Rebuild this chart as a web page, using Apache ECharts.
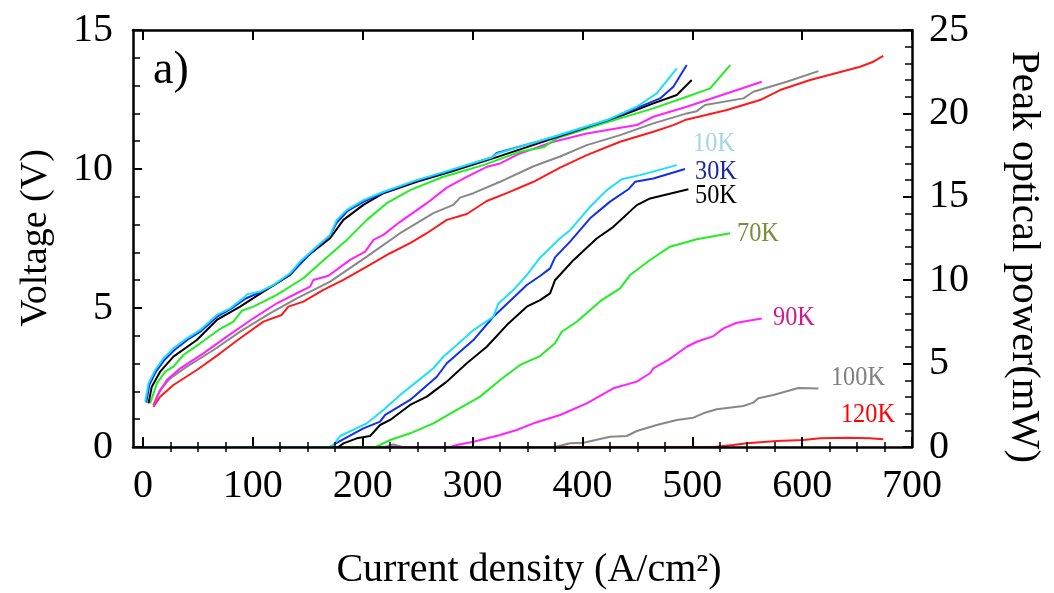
<!DOCTYPE html>
<html>
<head>
<meta charset="utf-8">
<script src="https://cdn.jsdelivr.net/npm/echarts@6/dist/echarts.min.js"></script>
<style>
html,body{margin:0;padding:0;background:#fff;}
#chart{width:1054px;height:593px;}
</style>
</head>
<body>
<div id="chart"></div>
<script>
// ---- Data (current density A/cm2, value) ----
const temps = ['10K','30K','50K','70K','90K','100K','120K'];
const lineColors = ['#1ee0f5','#1030ee','#000000','#22ee22','#ff22ff','#888888','#ff1a1a'];
const labelColors = ['#a4d6e6','#1c2b9c','#000000','#7d8c3c','#cc1a8c','#7f7f7f','#ff0000'];

const xTicks = [0,100,200,300,400,500,600,700];
const xMinorTicks = [25,50,75,125,150,175,225,250,275,325,350,375,425,450,475,525,550,575,625,650,675];

// Voltage (V)
const v10 = [[2.1,1.63],[5.1,2.29],[11.2,2.77],[18.7,3.19],[27.8,3.55],[40,3.91],[52.1,4.21],[67.3,4.75],[79.4,4.99],[93.1,5.41],[94.6,5.49],[106.7,5.59],[118.8,5.83],[134,6.25],[143.1,6.67],[158.3,7.21],[170.4,7.63],[176.5,8.17],[185.6,8.53],[200.7,8.88],[218.9,9.18],[249.3,9.6],[279.6,9.96],[318,10.42],[322.1,10.55],[373.6,11.16],[422.2,11.76],[449.5,12.24],[467.7,12.72],[485.9,13.62]];
const v30 = [[3,1.6],[6,2.25],[12,2.72],[20,3.15],[29,3.5],[41,3.87],[53,4.17],[68,4.7],[80,4.97],[94,5.35],[107,5.57],[119,5.82],[134,6.22],[144,6.62],[158,7.18],[170.4,7.6],[176,8.05],[186,8.48],[201,8.83],[219,9.15],[249,9.58],[280,9.94],[318,10.42],[322,10.58],[374,11.14],[422,11.74],[450,12.2],[470.7,12.54],[482.8,12.96],[495,13.74]];
const v50 = [[5.1,1.57],[8.1,2.17],[15.7,2.71],[27.8,3.25],[49.1,3.85],[67.3,4.57],[88.5,5.05],[109.7,5.59],[134,6.19],[149.2,6.85],[170.4,7.51],[182.5,8.17],[200.7,8.71],[218.9,9.13],[249.3,9.54],[280,9.9],[320,10.4],[373.6,11.1],[437,11.94],[464.6,12.36],[485.9,12.66],[499.5,13.2]];
const v70 = [[6.6,1.57],[12.7,2.29],[20.3,2.71],[27.8,2.89],[36.9,3.31],[52.1,3.73],[68.8,4.21],[82.4,4.51],[90.1,4.9],[100.6,5.05],[121.9,5.47],[146.1,6.07],[161.3,6.61],[185.6,7.45],[203.8,8.17],[222,8.77],[243.2,9.24],[273.5,9.72],[309.9,10.14],[343.3,10.62],[364.5,10.78],[376.7,11.1],[419.2,11.64],[464.6,12.18],[495,12.6],[516.3,12.9],[534.5,13.74]];
const v90 = [[9.6,1.51],[14.2,1.93],[21.8,2.41],[34,2.83],[55.1,3.37],[76.4,3.97],[100.6,4.63],[121.9,5.17],[140.1,5.53],[152.2,5.77],[155.2,6.01],[168.9,6.16],[188.6,6.73],[202.3,7.03],[209.9,7.45],[218.9,7.63],[234.1,8.1],[258.4,8.77],[276.6,9.33],[294.8,9.72],[313,10.08],[325.1,10.2],[343.3,10.56],[373.6,10.98],[404,11.28],[449.5,11.58],[464.6,11.88],[495,12.24],[522.3,12.6],[563.3,13.14]];
const v100 = [[9.6,1.5],[15.7,2.05],[24.8,2.47],[40,2.89],[64.3,3.49],[88.5,4.15],[115.6,4.81],[140.1,5.35],[170.4,5.95],[203.8,6.85],[234.1,7.69],[264.4,8.41],[282.6,8.71],[288.7,8.97],[300.8,9.13],[325.1,9.54],[355.5,10.1],[379.7,10.45],[404,10.86],[434.3,11.22],[464.6,11.64],[495,12.0],[504.1,12.08],[511.6,12.3],[546.5,12.54],[555.6,12.78],[586,13.14],[614.8,13.52]];
const v120 = [[9.6,1.45],[15.7,1.81],[27.8,2.23],[49.1,2.77],[70.3,3.37],[88.5,3.91],[109.7,4.51],[126.3,4.75],[132.4,5.05],[146.1,5.23],[164.3,5.65],[182.5,6.01],[203.8,6.49],[225,6.97],[243.2,7.33],[258.4,7.69],[276.6,8.17],[294.8,8.38],[313,8.85],[331.2,9.13],[355.5,9.54],[379.7,10.05],[404,10.5],[434.3,10.98],[464.6,11.34],[482.8,11.58],[493.4,11.76],[531.5,12.12],[561.7,12.48],[580,12.84],[607.3,13.2],[652.8,13.68],[664.8,13.86],[673.9,14.07]];

// Peak optical power (mW)
const p10 = [[0,0],[170,0],[173.4,0.12],[179.5,0.66],[203.8,1.42],[218.9,2.22],[234.1,3.12],[249.3,3.92],[264.4,4.72],[273.5,5.41],[285.7,6.12],[300.8,7.01],[319,7.81],[323.6,8.61],[337.2,9.41],[349.4,10.31],[361.5,11.35],[379.7,12.51],[388.8,13.0],[407,14.4],[422.2,15.4],[435.8,16.05],[452.5,16.3],[485.9,16.9]];
const p30 = [[0,0],[170,0],[178,0.3],[200.7,1.12],[215.9,1.52],[220.5,1.92],[243.2,2.82],[267.5,4.21],[276.6,5.02],[300.8,6.41],[319,7.81],[349.4,9.71],[361.5,10.25],[370.6,10.71],[375.1,11.37],[388.8,12.31],[407,13.71],[425.2,14.71],[441.9,15.45],[447.9,15.9],[464.6,16.1],[493.4,16.67]];
const p50 = [[0,0],[178,0],[182.5,0.22],[194.7,0.52],[206.8,0.66],[215.9,1.32],[225,1.62],[243.2,2.52],[258.4,3.02],[276.6,3.92],[294.8,5.02],[313,6.01],[331.2,7.31],[349.4,8.41],[361.5,8.81],[370.6,9.21],[375.1,10.0],[391.8,11.2],[413,12.5],[428.2,13.2],[449.5,14.5],[461.6,14.9],[496.5,15.45]];
const p70 = [[0,0],[212,0],[215.9,0.12],[225,0.42],[243.2,0.82],[264.4,1.42],[285.7,2.22],[306.9,3.02],[325.1,4.02],[343.3,4.92],[361.5,5.45],[375.1,6.22],[381.2,6.91],[394.9,7.51],[417.6,8.81],[434.3,9.51],[443.4,10.31],[461.6,11.21],[479.8,12.01],[504.1,12.45],[534.5,12.81]];
const p90 = [[0,0],[280,0],[285.7,0.12],[300.8,0.32],[325.1,0.72],[340.3,1.02],[355.5,1.42],[379.7,1.92],[404,2.62],[428.2,3.52],[449.5,3.92],[461.6,4.42],[464.6,4.72],[478.3,5.22],[495,6.01],[504.1,6.31],[519.3,6.65],[528.4,7.11],[540.6,7.45],[563.3,7.71]];
const p100 = [[0,0],[220,0],[228,0.15],[236,0],[375,0],[388.8,0.22],[400.9,0.26],[425.2,0.62],[440.4,0.66],[449.5,0.96],[467.7,1.32],[485.9,1.62],[501,1.76],[510.1,2.02],[522.3,2.26],[546.5,2.46],[555.6,2.66],[560.2,2.92],[573.8,3.12],[596.6,3.54],[614.8,3.5]];
const p120 = [[0,0],[520,0],[537.4,0.12],[549.6,0.22],[576.9,0.36],[601.1,0.42],[616.3,0.52],[640.6,0.56],[661.5,0.52],[673.9,0.46]];

const voltage = [v10,v30,v50,v70,v90,v100,v120];
const power = [p10,p30,p50,p70,p90,p100,p120];

// label centres in data coordinates (current density, power mW)
const labelAnchors = [[519.8,18.17],[521.6,16.49],[521.6,15.05],[559.8,12.77],[592.6,7.73],[650.8,4.14],[659.9,1.92]];

const FONT = '"Liberation Serif","Times New Roman",serif';
const chart = echarts.init(document.getElementById('chart'), null, {renderer:'canvas'});

const grid = {left:133, right:142, top:30, bottom:146};
const xMin = -9, xMax = 700;
const lineAxis = {show:true, onZero:false, lineStyle:{color:'#000', width:2.5}};

const series = [];
const order = [6,5,4,3,2,1,0];
order.forEach(i => {
  series.push({type:'line', name:temps[i]+' V', data:voltage[i], xAxisIndex:0, yAxisIndex:0,
    showSymbol:false, symbol:'none', lineStyle:{color:lineColors[i], width:2}, animation:false, z:3});
});
order.forEach(i => {
  series.push({type:'line', name:temps[i]+' P', data:power[i], xAxisIndex:0, yAxisIndex:1,
    showSymbol:false, symbol:'none', lineStyle:{color:lineColors[i], width:2}, animation:false, z:3});
});

const option = {
  backgroundColor:'#ffffff',
  animation:false,
  grid: grid,
  xAxis: [
    {type:'value', position:'bottom', min:xMin, max:xMax, z:10,
     axisLine: lineAxis, splitLine:{show:false},
     axisTick:{show:true, inside:true, length:10, customValues:xTicks, lineStyle:{color:'#000', width:2}},
     axisLabel:{show:true, customValues:xTicks, margin:19, color:'#000', fontFamily:FONT, fontSize:40}},
    {type:'value', position:'bottom', min:xMin, max:xMax, z:10,
     axisLine:{show:false}, splitLine:{show:false},
     axisTick:{show:true, inside:true, length:5, customValues:xMinorTicks, lineStyle:{color:'#000', width:1.5}},
     axisLabel:{show:false}},
    {type:'value', position:'top', min:xMin, max:xMax, z:10,
     axisLine: lineAxis, splitLine:{show:false},
     axisTick:{show:true, inside:true, length:10, customValues:xTicks, lineStyle:{color:'#000', width:2}},
     axisLabel:{show:false}},
    {type:'value', position:'top', min:xMin, max:xMax, z:10,
     axisLine:{show:false}, splitLine:{show:false},
     axisTick:{show:true, inside:true, length:5, customValues:xMinorTicks, lineStyle:{color:'#000', width:1.5}},
     axisLabel:{show:false}}
  ],
  yAxis: [
    {type:'value', position:'left', min:0, max:15, interval:5, z:10,
     axisLine: lineAxis, splitLine:{show:false},
     axisTick:{show:true, inside:true, length:9, lineStyle:{color:'#000', width:2}},
     minorTick:{show:true, splitNumber:5, length:7, lineStyle:{color:'#000', width:1.5}},
     axisLabel:{margin:20, color:'#000', fontFamily:FONT, fontSize:40}},
    {type:'value', position:'right', min:0, max:25, interval:5, z:10,
     axisLine: lineAxis, splitLine:{show:false},
     axisTick:{show:true, inside:true, length:9, lineStyle:{color:'#000', width:2}},
     minorTick:{show:true, splitNumber:5, length:7, lineStyle:{color:'#000', width:1.5}},
     axisLabel:{margin:17, color:'#000', fontFamily:FONT, fontSize:40}}
  ],
  series: series
};
chart.setOption(option);

// Text overlays (real text) positioned via the chart's own coordinate conversion
const graphics = [];
temps.forEach((t, i) => {
  const pt = chart.convertToPixel({xAxisIndex:0, yAxisIndex:1}, labelAnchors[i]);
  graphics.push({type:'text', x:pt[0], y:pt[1], z:10, scaleX:0.9,
    style:{text:t, fill:labelColors[i], font:'27px ' + FONT, align:'center', verticalAlign:'middle'}});
});
graphics.push({type:'text', x:153, y:71, z:10,
  style:{text:'a)', fill:'#000', font:'46px ' + FONT, align:'left', verticalAlign:'middle'}});
graphics.push({type:'text', x:36, y:238, rotation:Math.PI/2, z:10,
  style:{text:'Voltage (V)', fill:'#000', font:'38px ' + FONT, align:'center', verticalAlign:'middle'}});
graphics.push({type:'text', x:1024, y:257, rotation:-Math.PI/2, z:10,
  style:{text:'Peak optical power(mW)', fill:'#000', font:'41px ' + FONT, align:'center', verticalAlign:'middle'}});
graphics.push({type:'text', x:529, y:570, z:10,
  style:{text:'Current density (A/cm²)', fill:'#000', font:'40px ' + FONT, align:'center', verticalAlign:'middle'}});
chart.setOption({graphic: graphics});
</script>
</body>
</html>
